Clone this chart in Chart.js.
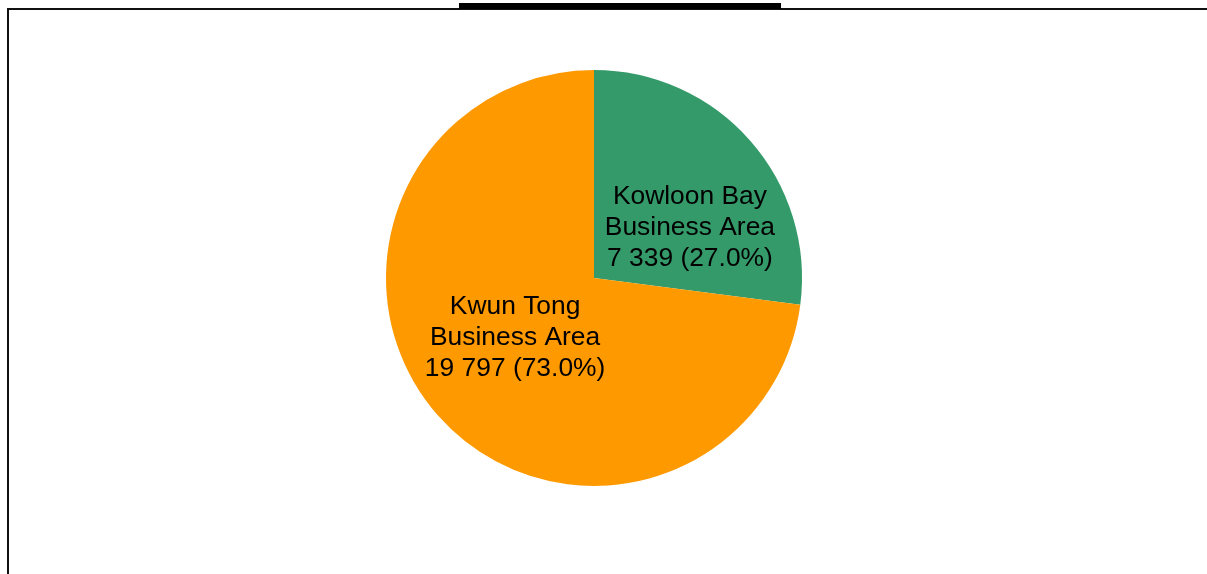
<!DOCTYPE html>
<html>
<head>
<meta charset="utf-8">
<script src="https://cdn.jsdelivr.net/npm/chart.js@4"></script>
<style>
  html, body { margin: 0; padding: 0; background: #fff; }
  #wrap { width: 1207px; height: 574px; position: relative; }
</style>
</head>
<body>
<div id="wrap"><canvas id="chartjs_pie"></canvas></div>
<script>
const areas = ["Kowloon Bay\nBusiness Area", "Kwun Tong\nBusiness Area"];
const counts = [7339, 19797];
const colors = ["#359a6a", "#ff9900"];

// frame around the plot plus the bar under the (clipped) heading
const framePlugin = {
  id: "frame",
  beforeDraw(chart) {
    const ctx = chart.ctx;
    ctx.save();
    ctx.fillStyle = "#fff";
    ctx.fillRect(0, 0, chart.width, chart.height);
    ctx.strokeStyle = "#111";
    ctx.lineWidth = 2;
    ctx.beginPath();
    ctx.moveTo(8, chart.height);
    ctx.lineTo(8, 9);
    ctx.lineTo(chart.width, 9);
    ctx.stroke();
    ctx.fillStyle = "#000";
    ctx.fillRect(459, 3, 322, 6);
    ctx.restore();
  },
};

function fmt(n) {
  return String(n).replace(/\B(?=(\d{3})+(?!\d))/g, " ");
}

// category, value and share drawn inside each slice
const sliceLabels = {
  id: "sliceLabels",
  afterDatasetsDraw(chart, args, opts) {
    const ctx = chart.ctx;
    const meta = chart.getDatasetMeta(0);
    const data = chart.data.datasets[0].data;
    const total = data.reduce((a, b) => a + b, 0);
    ctx.save();
    ctx.font = opts.font;
    ctx.fillStyle = "#000";
    ctx.textAlign = "center";
    ctx.textBaseline = "middle";
    meta.data.forEach((arc, i) => {
      const p = arc.getProps(["x", "y", "startAngle", "endAngle", "outerRadius"], true);
      const mid = (p.startAngle + p.endAngle) / 2;
      const r = p.outerRadius * 0.55;
      const off = opts.offsets[i];
      const cx = p.x + Math.cos(mid) * r + off[0];
      const cy = p.y + Math.sin(mid) * r + off[1];
      const lines = chart.data.labels[i].split("\n");
      lines.push(fmt(data[i]) + " (" + (data[i] / total * 100).toFixed(1) + "%)");
      const lh = opts.lineHeight;
      lines.forEach((t, k) => {
        ctx.fillText(t, cx, cy + (k - (lines.length - 1) / 2) * lh);
      });
    });
    ctx.restore();
  },
};

new Chart(document.getElementById("chartjs_pie"), {
  type: "pie",
  data: {
    labels: areas,
    datasets: [
      {
        data: counts,
        backgroundColor: colors,
        borderWidth: 0,
      },
    ],
  },
  options: {
    responsive: true,
    maintainAspectRatio: false,
    animation: false,
    layout: {
      padding: { top: 70, bottom: 88, left: 386, right: 405 },
    },
    plugins: {
      legend: { display: false },
      tooltip: { enabled: false },
      sliceLabels: {
        font: "26.4px 'Liberation Sans', Arial, sans-serif",
        lineHeight: 31,
        offsets: [[10, 25], [7, -16]],
      },
    },
  },
  plugins: [framePlugin, sliceLabels],
});
</script>
</body>
</html>
